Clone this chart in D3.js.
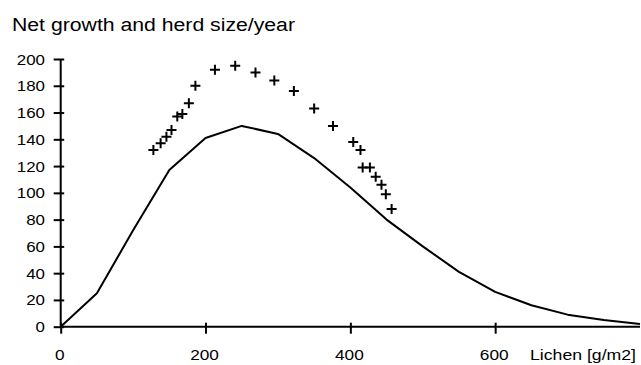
<!DOCTYPE html>
<html>
<head>
<meta charset="utf-8">
<script src="https://cdn.jsdelivr.net/npm/d3@7"></script>
<style>
  body { margin: 0; background: #fff; }
  text { font-family: "Liberation Sans", Arial, sans-serif; fill: #000; }
</style>
</head>
<body>
<script>
// Net growth curve (lichen vs growth)
var lichen = [0, 50, 100, 150, 200, 250, 300, 350, 400, 450, 500, 550, 600, 650, 700, 750, 800];
var growth = [0, 25, 72, 117, 141, 150, 144, 126, 104, 80, 60, 41, 26, 16, 9, 5, 2];

// Observed herd size (crosses)
var herdX = [128, 138, 146, 153, 161, 168, 177, 186, 213, 241, 269, 295, 322, 350, 376, 404, 414, 417, 427, 435, 443, 449, 457];
var herdY = [132, 137, 142, 147, 157, 159, 167, 180, 192, 195, 190, 184, 176, 163, 150, 138, 132, 119, 119, 112, 106, 99, 88];

var xTicks = [0, 200, 400, 600];
var yTicks = [0, 20, 40, 60, 80, 100, 120, 140, 160, 180, 200];

var width = 641;
var height = 365;

var svg = d3.select("body")
  .append("svg")
  .attr("width", width)
  .attr("height", height);

var xScale = d3.scaleLinear()
  .domain([0, 800])
  .range([60.7, 640]);

var yScale = d3.scaleLinear()
  .domain([0, 200])
  .range([326.7, 59]);

// title
svg.append("text")
  .attr("x", 12)
  .attr("y", 30.5)
  .attr("font-size", 18)
  .attr("textLength", 283)
  .attr("lengthAdjust", "spacingAndGlyphs")
  .text("Net growth and herd size/year");

// y axis
var yAxis = svg.append("g")
  .attr("transform", "translate(" + xScale(0) + ",0)")
  .call(d3.axisLeft(yScale).tickValues(yTicks).tickSize(7).tickPadding(0));

yAxis.select(".domain").attr("stroke-width", 2).attr("d", "M0," + yScale(0) + "V" + yScale(200));
yAxis.selectAll(".tick line").attr("x1", 3.5).attr("stroke-width", 2);
yAxis.selectAll(".tick text")
  .attr("x", -15.7)
  .attr("dy", "0.36em")
  .attr("font-size", 14)
  .attr("font-family", "Liberation Sans, Arial, sans-serif")
  .attr("textLength", function(d) { return String(d).length * 9.4; })
  .attr("lengthAdjust", "spacingAndGlyphs");

// x axis
var xAxis = svg.append("g")
  .attr("transform", "translate(0," + yScale(0) + ")")
  .call(d3.axisBottom(xScale).tickValues(xTicks).tickSize(7).tickPadding(0));

xAxis.select(".domain").attr("stroke-width", 2).attr("d", "M" + xScale(0) + ",0H" + xScale(800));
xAxis.selectAll(".tick line").attr("y1", -4).attr("stroke-width", 2);
xAxis.selectAll(".tick text")
  .attr("y", 33.5)
  .attr("dy", 0)
  .attr("x", -1.5)
  .attr("font-size", 14)
  .attr("font-family", "Liberation Sans, Arial, sans-serif")
  .attr("textLength", function(d) { return String(d).length * 9.6; })
  .attr("lengthAdjust", "spacingAndGlyphs");

svg.append("text")
  .attr("x", 530)
  .attr("y", 360.2)
  .attr("font-size", 14)
  .attr("textLength", 106)
  .attr("lengthAdjust", "spacingAndGlyphs")
  .text("Lichen [g/m2]");

// growth curve
var line = d3.line()
  .x(function(d, i) { return xScale(lichen[i]); })
  .y(function(d) { return yScale(d); });

svg.append("path")
  .datum(growth)
  .attr("d", line)
  .attr("fill", "none")
  .attr("stroke", "#000")
  .attr("stroke-width", 2)
  .attr("stroke-linejoin", "round");

// herd crosses
svg.selectAll(".herd")
  .data(herdX)
  .enter()
  .append("path")
    .attr("class", "herd")
    .attr("transform", function(d, i) { return "translate(" + xScale(d) + "," + yScale(herdY[i]) + ")"; })
    .attr("d", "M-5,0H5M0,-5V5")
    .attr("stroke", "#000")
    .attr("stroke-width", 2)
    .attr("fill", "none");
</script>
</body>
</html>
